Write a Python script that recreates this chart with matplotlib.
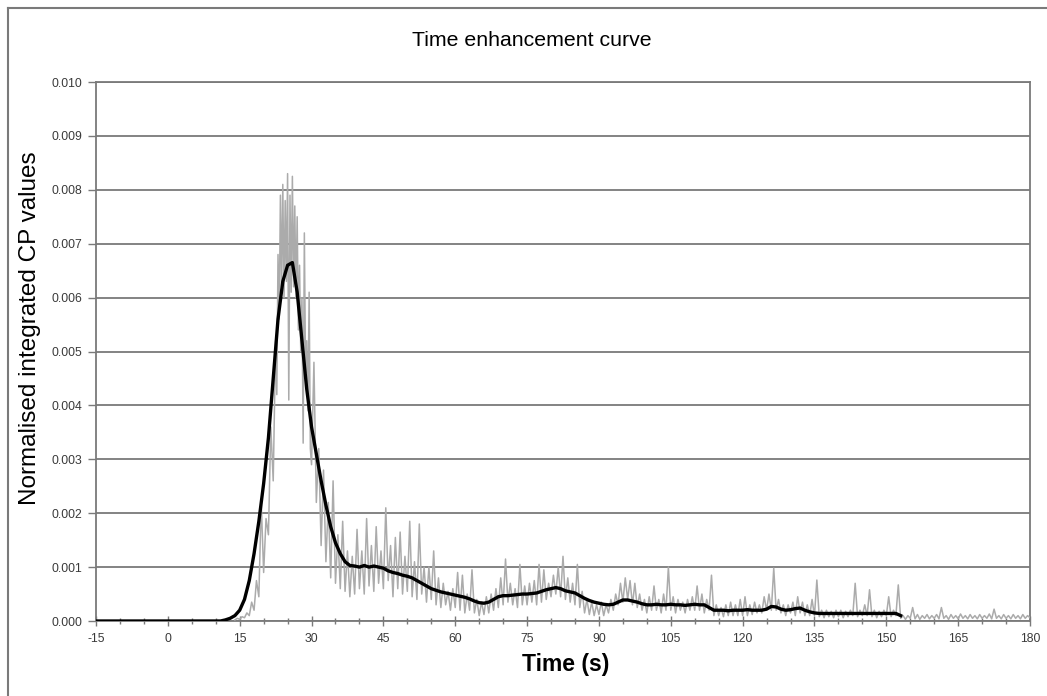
import numpy as np
import matplotlib
matplotlib.use("Agg")
import matplotlib.pyplot as plt
from matplotlib.lines import Line2D
from matplotlib.ticker import MultipleLocator, FuncFormatter

plt.rcParams['font.family'] = ['Liberation Sans', 'DejaVu Sans']
plt.rcParams['axes.unicode_minus'] = False

# ---- data (values in units of 1e-3) ----
title = "Time enhancement curve"
xlabel = "Time (s)"
ylabel = "Normalised integrated CP values"
x_ticks = [-15, 0, 15, 30, 45, 60, 75, 90, 105, 120, 135, 150, 165, 180]

# raw (noisy) signal: rise, sampled every 0.5 s from t = 14 s
raw_rise_start = 14.0
raw_rise_values = [
    0.02, 0.05, 0.03, 0.08, 0.06, 0.15, 0.10, 0.35, 0.20, 0.75,
    0.45, 2.2, 0.9, 1.9, 1.6, 3.6, 2.6,
]
# raw signal around the peak, sampled every 0.25 s from t = 22.5 s
raw_peak_start = 22.5
raw_peak_values = [
    5.2, 4.2, 6.8, 5.6, 7.9, 6.2, 8.1, 6.0, 7.8, 6.3,
    8.3, 4.1, 7.9, 6.1, 8.25, 6.2, 7.7, 6.0, 7.5, 5.4,
    6.6, 5.0, 6.0, 3.3, 7.2, 4.6, 5.2, 3.9, 6.1, 3.2,
]
# raw signal tail, sampled every 0.5 s from t = 30 s
raw_tail_start = 30.0
raw_tail_values = [
    2.9, 4.8, 2.2, 3.2, 1.4, 2.8, 1.1, 2.2,
    0.8, 2.6, 0.7, 1.6, 0.6, 1.85, 0.55, 1.3, 0.45, 1.2,
    0.5, 1.7, 0.6, 1.3, 0.5, 1.9, 0.65, 1.4, 0.55, 1.75,
    0.7, 1.3, 0.6, 2.1, 0.75, 1.4, 0.45, 1.55, 0.6, 1.65,
    0.5, 1.2, 0.55, 1.85, 0.45, 1.1, 0.4, 1.8, 0.5, 1.0,
    0.35, 1.0, 0.4, 1.3, 0.3, 0.8, 0.25, 0.7, 0.3, 0.55,
    0.2, 0.6, 0.25, 0.9, 0.2, 0.85, 0.15, 0.5, 0.2, 0.95,
    0.15, 0.4, 0.1, 0.35, 0.12, 0.45, 0.15, 0.5, 0.2, 0.6,
    0.25, 0.8, 0.3, 1.15, 0.35, 0.7, 0.3, 0.6, 0.25, 1.05,
    0.3, 0.65, 0.3, 0.7, 0.35, 0.75, 0.3, 1.05, 0.35, 0.95,
    0.4, 0.7, 0.45, 0.85, 0.5, 1.0, 0.45, 1.2, 0.4, 0.8,
    0.35, 0.7, 0.3, 1.05, 0.25, 0.55, 0.15, 0.4, 0.12, 0.35,
    0.1, 0.3, 0.12, 0.35, 0.1, 0.3, 0.15, 0.4, 0.2, 0.5,
    0.3, 0.7, 0.35, 0.8, 0.4, 0.75, 0.3, 0.7, 0.25, 0.5,
    0.2, 0.4, 0.15, 0.45, 0.2, 0.65, 0.2, 0.4, 0.15, 0.5,
    0.2, 1.0, 0.2, 0.45, 0.15, 0.4, 0.2, 0.35, 0.15, 0.4,
    0.2, 0.45, 0.2, 0.65, 0.2, 0.5, 0.15, 0.4, 0.2, 0.85,
    0.1, 0.3, 0.1, 0.25, 0.08, 0.3, 0.1, 0.35, 0.1, 0.3,
    0.1, 0.4, 0.1, 0.45, 0.1, 0.3, 0.12, 0.35, 0.15, 0.3,
    0.15, 0.45, 0.2, 0.5, 0.2, 0.98, 0.2, 0.4, 0.15, 0.3,
    0.1, 0.3, 0.15, 0.35, 0.1, 0.45, 0.15, 0.35, 0.1, 0.3,
    0.1, 0.4, 0.1, 0.76, 0.08, 0.2, 0.06, 0.2, 0.08, 0.18,
    0.06, 0.2, 0.08, 0.2, 0.06, 0.18, 0.08, 0.2, 0.1, 0.7,
    0.08, 0.2, 0.1, 0.3, 0.1, 0.58, 0.08, 0.2, 0.06, 0.18,
    0.08, 0.2, 0.1, 0.45, 0.08, 0.2, 0.1, 0.67, 0.05, 0.1,
    0.03, 0.1, 0.05, 0.25, 0.04, 0.12, 0.03, 0.1, 0.05, 0.12,
    0.04, 0.1, 0.05, 0.12, 0.04, 0.25, 0.05, 0.1, 0.03, 0.12,
    0.05, 0.1, 0.04, 0.13, 0.05, 0.1, 0.04, 0.12, 0.05, 0.1,
    0.04, 0.12, 0.05, 0.1, 0.05, 0.13, 0.04, 0.22, 0.05, 0.1,
    0.04, 0.12, 0.05, 0.1, 0.04, 0.12, 0.05, 0.1, 0.04, 0.12,
    0.05, 0.1, 0.06,
]

# smoothed curve, sampled every 1 s starting at t = -15 s
smooth_start = -15.0
smooth_values = [
    0, 0, 0, 0, 0, 0, 0, 0, 0, 0,                  # -15 .. -6
    0, 0, 0, 0, 0, 0, 0, 0, 0, 0,                  # -5 .. 4
    0, 0, 0, 0, 0, 0, 0, 0.02, 0.05, 0.1,          # 5 .. 14
    0.2, 0.4, 0.75, 1.25, 1.85, 2.55, 3.4, 4.5, 5.6, 6.3,   # 15 .. 24
    6.6, 6.65, 6.1, 5.2, 4.3, 3.6, 3.1, 2.6, 2.15, 1.75,    # 25 .. 34
    1.45, 1.25, 1.1, 1.03, 1.02, 1.0, 1.03, 1.0, 1.02, 1.0, # 35 .. 44
    0.98, 0.93, 0.9, 0.88, 0.85, 0.83, 0.8, 0.75, 0.7, 0.65,  # 45 .. 54
    0.6, 0.57, 0.54, 0.52, 0.5, 0.48, 0.46, 0.44, 0.41, 0.37, # 55 .. 64
    0.34, 0.33, 0.35, 0.4, 0.45, 0.47, 0.47, 0.48, 0.49, 0.5, # 65 .. 74
    0.5, 0.51, 0.52, 0.55, 0.58, 0.6, 0.62, 0.6, 0.56, 0.54,  # 75 .. 84
    0.52, 0.47, 0.42, 0.38, 0.35, 0.33, 0.31, 0.3, 0.31, 0.35, # 85 .. 94
    0.39, 0.39, 0.37, 0.35, 0.32, 0.3, 0.3, 0.31, 0.3, 0.3,   # 95 .. 104
    0.31, 0.3, 0.3, 0.29, 0.3, 0.31, 0.3, 0.3, 0.25, 0.2,     # 105 .. 114
    0.2, 0.2, 0.19, 0.2, 0.2, 0.2, 0.21, 0.2, 0.2, 0.2,       # 115 .. 124
    0.22, 0.27, 0.26, 0.22, 0.2, 0.21, 0.23, 0.24, 0.2, 0.17, # 125 .. 134
    0.15, 0.14, 0.14, 0.14, 0.14, 0.14, 0.14, 0.14, 0.14, 0.14, # 135 .. 144
    0.14, 0.14, 0.14, 0.14, 0.14, 0.14, 0.14, 0.14, 0.1,      # 145 .. 153
]

raw_t = np.concatenate([
    raw_rise_start + 0.5 * np.arange(len(raw_rise_values)),
    raw_peak_start + 0.25 * np.arange(len(raw_peak_values)),
    raw_tail_start + 0.5 * np.arange(len(raw_tail_values)),
])
raw_y = np.array(raw_rise_values + raw_peak_values + raw_tail_values) * 1e-3
smooth_t = smooth_start + 1.0 * np.arange(len(smooth_values))
smooth_y = np.array(smooth_values) * 1e-3

# ---- figure ----
W, H = 1047, 696
fig = plt.figure(figsize=(W / 100, H / 100), dpi=100)
ax = fig.add_axes([96 / W, 1 - 621 / H, (1030 - 96) / W, (621 - 82) / H])

ax.plot(raw_t, raw_y, color='#ababab', lw=1.1, zorder=3)
ax.plot(smooth_t, smooth_y, color='black', lw=2.4, zorder=4)

ax.set_xlim(-15, 180)
ax.set_ylim(0, 0.010)
ax.set_xticks(x_ticks)
ax.xaxis.set_minor_locator(MultipleLocator(5))
ax.yaxis.set_major_locator(MultipleLocator(0.001))
ax.yaxis.set_major_formatter(FuncFormatter(lambda v, p: f"{v:.3f}"))

ax.grid(axis='y', color='#7a7a7a', lw=1.3, zorder=1)
ax.set_axisbelow(True)
for s in ax.spines.values():
    s.set_color('#7a7a7a')
    s.set_linewidth(1.3)

ax.tick_params(axis='x', which='major', direction='inout', length=7, width=1,
               color='#7a7a7a', labelsize=8.8, labelcolor='#3a3a3a', pad=5)
ax.tick_params(axis='x', which='minor', direction='inout', length=4, width=1,
               color='#7a7a7a')
ax.tick_params(axis='y', which='major', direction='out', length=6, width=1,
               color='#7a7a7a', labelsize=8.8, labelcolor='#3a3a3a', pad=4)

fig.text(532 / W, 1 - 40 / H, title, ha='center', va='center', fontsize=15.3)
fig.text(566 / W, 1 - 664 / H, xlabel, ha='center', va='center',
         fontsize=16.5, fontweight='bold')
fig.text(30 / W, 1 - 328 / H, ylabel, ha='center', va='center',
         fontsize=17.5, rotation=90)

# outer chart frame (left and top edges visible)
fig.add_artist(Line2D([8 / W, 8 / W], [0, 1 - 8 / H], transform=fig.transFigure,
                      color='#7a7a7a', lw=1.5))
fig.add_artist(Line2D([8 / W, 1], [1 - 8 / H, 1 - 8 / H], transform=fig.transFigure,
                      color='#7a7a7a', lw=1.5))

fig.savefig("out.png", dpi=100)
